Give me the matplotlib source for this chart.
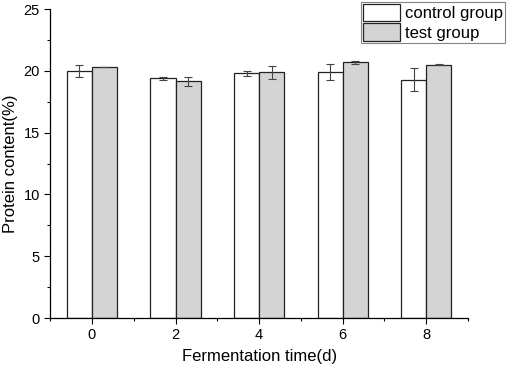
import numpy as np
from matplotlib import pyplot as plt
from matplotlib.ticker import MultipleLocator

plt.rcParams['font.family'] = ['Liberation Sans', 'DejaVu Sans']

# Data
days = [0, 2, 4, 6, 8]
control_mean = [20.0, 19.39, 19.8, 19.9, 19.3]
control_err = [0.5, 0.13, 0.18, 0.68, 0.92]
test_mean = [20.28, 19.15, 19.9, 20.7, 20.5]
test_err = [0.0, 0.38, 0.52, 0.13, 0.02]

fig = plt.figure(figsize=(5.12, 3.70), dpi=100)
ax = fig.add_axes([0.098, 0.1405, 0.816, 0.835])

x = np.array(days, dtype=float)
width = 0.6
err_kw = dict(ecolor='#444444', elinewidth=0.8, capsize=3, capthick=0.8)

b1 = ax.bar(x - width / 2, control_mean, width, yerr=control_err,
            color='white', edgecolor='#222222', linewidth=0.9,
            error_kw=err_kw, label='control group')
b2 = ax.bar(x + width / 2, test_mean, width, yerr=test_err,
            color='#d4d4d4', edgecolor='#222222', linewidth=0.9,
            error_kw=err_kw, label='test group')

ax.set_xlim(-1, 9)
ax.set_ylim(0, 25)
ax.set_xticks(days)
ax.xaxis.set_minor_locator(MultipleLocator(1))
ax.yaxis.set_major_locator(MultipleLocator(5))
ax.yaxis.set_minor_locator(MultipleLocator(2.5))
ax.tick_params(which='major', direction='out', length=4, width=0.8, labelsize=10.5)
ax.tick_params(which='minor', direction='out', length=2.5, width=0.8)

for side in ['top', 'right']:
    ax.spines[side].set_visible(False)
for side in ['left', 'bottom']:
    ax.spines[side].set_linewidth(0.9)

ax.set_xlabel('Fermentation time(d)', fontsize=12, labelpad=5)
ax.set_ylabel('Protein content(%)', fontsize=12, labelpad=4)

leg = fig.legend(handles=[b1, b2], loc='upper right',
                 bbox_to_anchor=(0.986, 0.995), fontsize=12,
                 frameon=True, fancybox=False, edgecolor='#666666',
                 handlelength=2.2, handleheight=1.25, handletextpad=0.3,
                 borderpad=0.12, labelspacing=0.1, borderaxespad=0)
leg.get_frame().set_linewidth(0.8)

fig.savefig('out.png', dpi=100)
